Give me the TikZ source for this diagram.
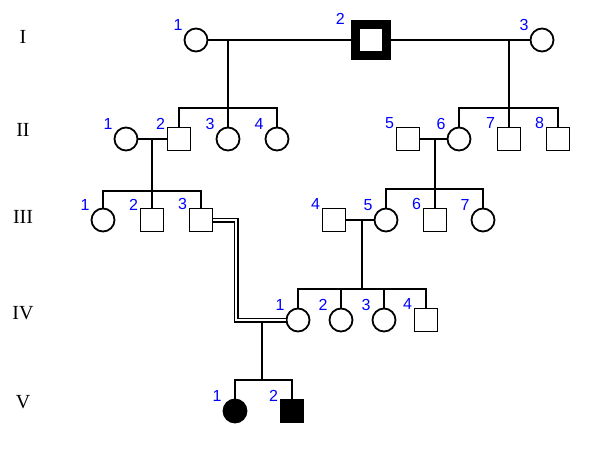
\documentclass[tikz,border=0pt]{standalone}
\usepackage{fontspec}
\setmainfont{Liberation Serif}
\setsansfont{Liberation Sans}
\tikzset{
  person/.style={draw,line width=1.8pt,minimum size=23pt,inner sep=0pt},
  male/.style={person,rectangle},
  female/.style={person,circle},
  num/.style={text=blue,font=\sffamily\fontsize{16}{16}\selectfont,inner sep=0pt,anchor=center},
  man/.style={male,label={[num,label distance=8pt]140:#1}},
  woman/.style={female,label={[num,label distance=11pt]140:#1}},
  sick/.style={fill=black},
  gen/.style={font=\fontsize{20}{20}\selectfont},
  consang/.style={double,double distance=2.2pt,line width=1.4pt}
}
\begin{document}
\begin{tikzpicture}[x=1pt,y=-1pt,line width=1.8pt]
\useasboundingbox (0,0) rectangle (600,464);
% generations
\node[gen] (gI) at (23,37){I};\node[gen] (gII) at (23,130){II};\node[gen] (gIII) at (23,217){III};
\node[gen] (gIV) at (23,313){IV};\node[gen] (gV) at (23,402){V};
% I
\node[woman=1] (I1) at (196,40){};
\node[male,line width=9pt,minimum size=31pt,label={[num,label distance=13pt]146:2}] (I2) at (371,40){};
\node[woman=3] (I3) at (542,40){};
\draw (I1)--(I2)--(I3);
% II
\node[woman=1] (II1) at (126,139){};\node[man=2] (II2) at (179,139){};
\node[woman=3] (II3) at (228,139){};\node[woman=4] (II4) at (277,139){};
\node[man=5] (II5) at (408,139){};\node[woman=6] (II6) at (459,139){};
\node[man=7] (II7) at (509,139){};\node[man=8] (II8) at (558,139){};
\coordinate (mI12) at (228,40);\coordinate (sII1) at (228,108);
\draw (mI12)--(sII1);\draw (II2)|-(sII1)-|(II4);\draw (sII1)--(II3);
\coordinate (mI23) at (509,40);\coordinate (sII2) at (509,108);
\draw (mI23)--(sII2);\draw (II6)|-(sII2)-|(II8);\draw (sII2)--(II7);
% III
\node[woman=1] (III1) at (103,220){};\node[man=2] (III2) at (152,220){};\node[man=3] (III3) at (201,220){};
\node[man=4] (III4) at (334,220){};\node[woman=5] (III5) at (386,220){};
\node[man=6] (III6) at (435,220){};\node[woman=7] (III7) at (483,220){};
\draw (II1)--(II2);\coordinate (mII12) at (152,139);\coordinate (sIII1) at (152,191);
\draw (mII12)--(sIII1);\draw (III1)|-(sIII1)-|(III3);\draw (sIII1)--(III2);
\draw (II5)--(II6);\coordinate (mII56) at (435,139);\coordinate (sIII2) at (435,189);
\draw (mII56)--(sIII2);\draw (III5)|-(sIII2)-|(III7);\draw (sIII2)--(III6);
% IV
\node[woman=1] (IV1) at (298,320){};\node[woman=2] (IV2) at (341,320){};
\node[woman=3] (IV3) at (384,320){};\node[man=4] (IV4) at (426,320){};
\draw (III4)--(III5);\coordinate (mIII45) at (362,220);\coordinate (sIV) at (362,289);
\draw (mIII45)--(sIV);\draw (IV1)|-(sIV)-|(IV4);\draw (IV2)|-(sIV);\draw (IV3)|-(sIV);
% V
\node[woman=1,sick] (V1) at (235,411){};\node[man=2,sick] (V2) at (292,411){};
\coordinate (mIV) at (262,320);\coordinate (sV) at (262,380);
\draw (mIV)--(sV);\draw (V1)|-(sV)-|(V2);
\coordinate (kIV) at (236,320);
\draw[consang] (III3)-|(kIV)--(IV1);
\end{tikzpicture}
\end{document}
